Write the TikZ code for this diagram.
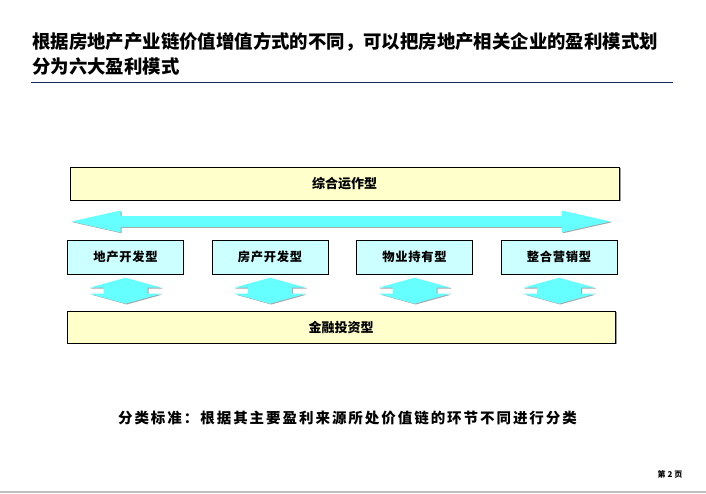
\documentclass[tikz,border=0pt]{standalone}
\usepackage{fontspec}
\usepackage{tikz}
\newfontfamily\cjk{Noto Sans CJK SC}
\newfontfamily\cjkwide{Noto Sans CJK SC}[LetterSpace=13.5]
\newfontfamily\cjkbox{Noto Sans CJK SC}[LetterSpace=6]
\usetikzlibrary{positioning,calc,shadows}
\definecolor{ppYellow}{RGB}{255,255,204}
\definecolor{ppCyanLight}{RGB}{204,255,255}
\definecolor{ppCyan}{RGB}{102,255,255}
\definecolor{ppNavy}{RGB}{20,38,92}

\begin{document}
\begin{tikzpicture}[
  x=1pt, y=-1pt,
  node distance = 8pt and 27.5pt, % y-dist and x-dist
  wide/.style = {rectangle, draw, line width=1pt, fill=ppYellow,
                 minimum height=33pt, align=center,
                 font={\cjk\bfseries\fontsize{13}{15}\selectfont},
                 drop shadow={shadow xshift=1.5pt, shadow yshift=-1.2pt, fill=black!40, opacity=1}},
  kind/.style = {rectangle, draw, line width=1pt, fill=ppCyanLight,
                 minimum width=116pt, minimum height=34pt, align=center,
                 font={\cjkbox\bfseries\fontsize{12.3}{14}\selectfont}},
  blockarr/.style = {fill=ppCyan,
                 drop shadow={shadow xshift=1.2pt, shadow yshift=-0.8pt, fill=black!35, opacity=1}}
]
\useasboundingbox (0,0) rectangle (706,493);

% Heading with rule under it
\node[anchor=north west, inner sep=0, align=left,
      font={\cjk\bfseries\fontsize{18.4}{25}\selectfont}] (title) at (32,32)
  {根据房地产产业链价值增值方式的不同，可以把房地产相关企业的盈利模式划\\分为六大盈利模式};
\draw[ppNavy, line width=1pt] (31,82) -- (673,82);

% Top and bottom bands
\node[wide, minimum width=549pt] (ops) at (344.5,183.5) {综合运作型};
\node[wide, minimum width=548pt, minimum height=32pt] (fin) at (341,327) {金融投资型};

% The four middle models
\node[kind] (land) at (125.5,257) {地产开发型};
\node[kind, right=of land]  (house) {房产开发型};
\node[kind, right=of house] (hold)  {物业持有型};
\node[kind, right=of hold]  (mkt)   {整合营销型};

% Long two-way arrow under the top band
\coordinate (hl) at ($(ops.south west)+(2,21)$);
\coordinate (hr) at ($(ops.south east)+(-9,21)$);
\path[blockarr] (hl) -- ($(hl)+(49,-11)$) -- ($(hl)+(49,-5.5)$)
  -- ($(hr)+(-49,-5.5)$) -- ($(hr)+(-49,-11)$) -- (hr)
  -- ($(hr)+(-49,11)$) -- ($(hr)+(-49,5.5)$)
  -- ($(hl)+(49,5.5)$) -- ($(hl)+(49,11)$) -- cycle;

% Short up/down arrows between each model and the bottom band
\foreach \b in {land,house,hold,mkt} {
  \coordinate (\b-c) at ($(\b.south)!0.45!(\b.south |- fin.north)$);
  \begin{scope}[shift={(\b-c)}]
    \path[blockarr] (0,-13) -- (36,-3) -- (22,-3) -- (22,3) -- (36,3)
      -- (0,13) -- (-36,3) -- (-22,3) -- (-22,-3) -- (-36,-3) -- cycle;
  \end{scope}
}

% Criterion line and page number
\node[font={\cjkwide\bfseries\fontsize{14.5}{16}\selectfont}] (crit) at (347.5,418)
  {分类标准：根据其主要盈利来源所处价值链的环节不同进行分类};
\node[font={\cjk\bfseries\fontsize{8}{9}\selectfont}] (page) at (670,474) {第 2 页};
\fill[black!25] (0,490.5) rectangle (706,493);

\end{tikzpicture}
\end{document}
